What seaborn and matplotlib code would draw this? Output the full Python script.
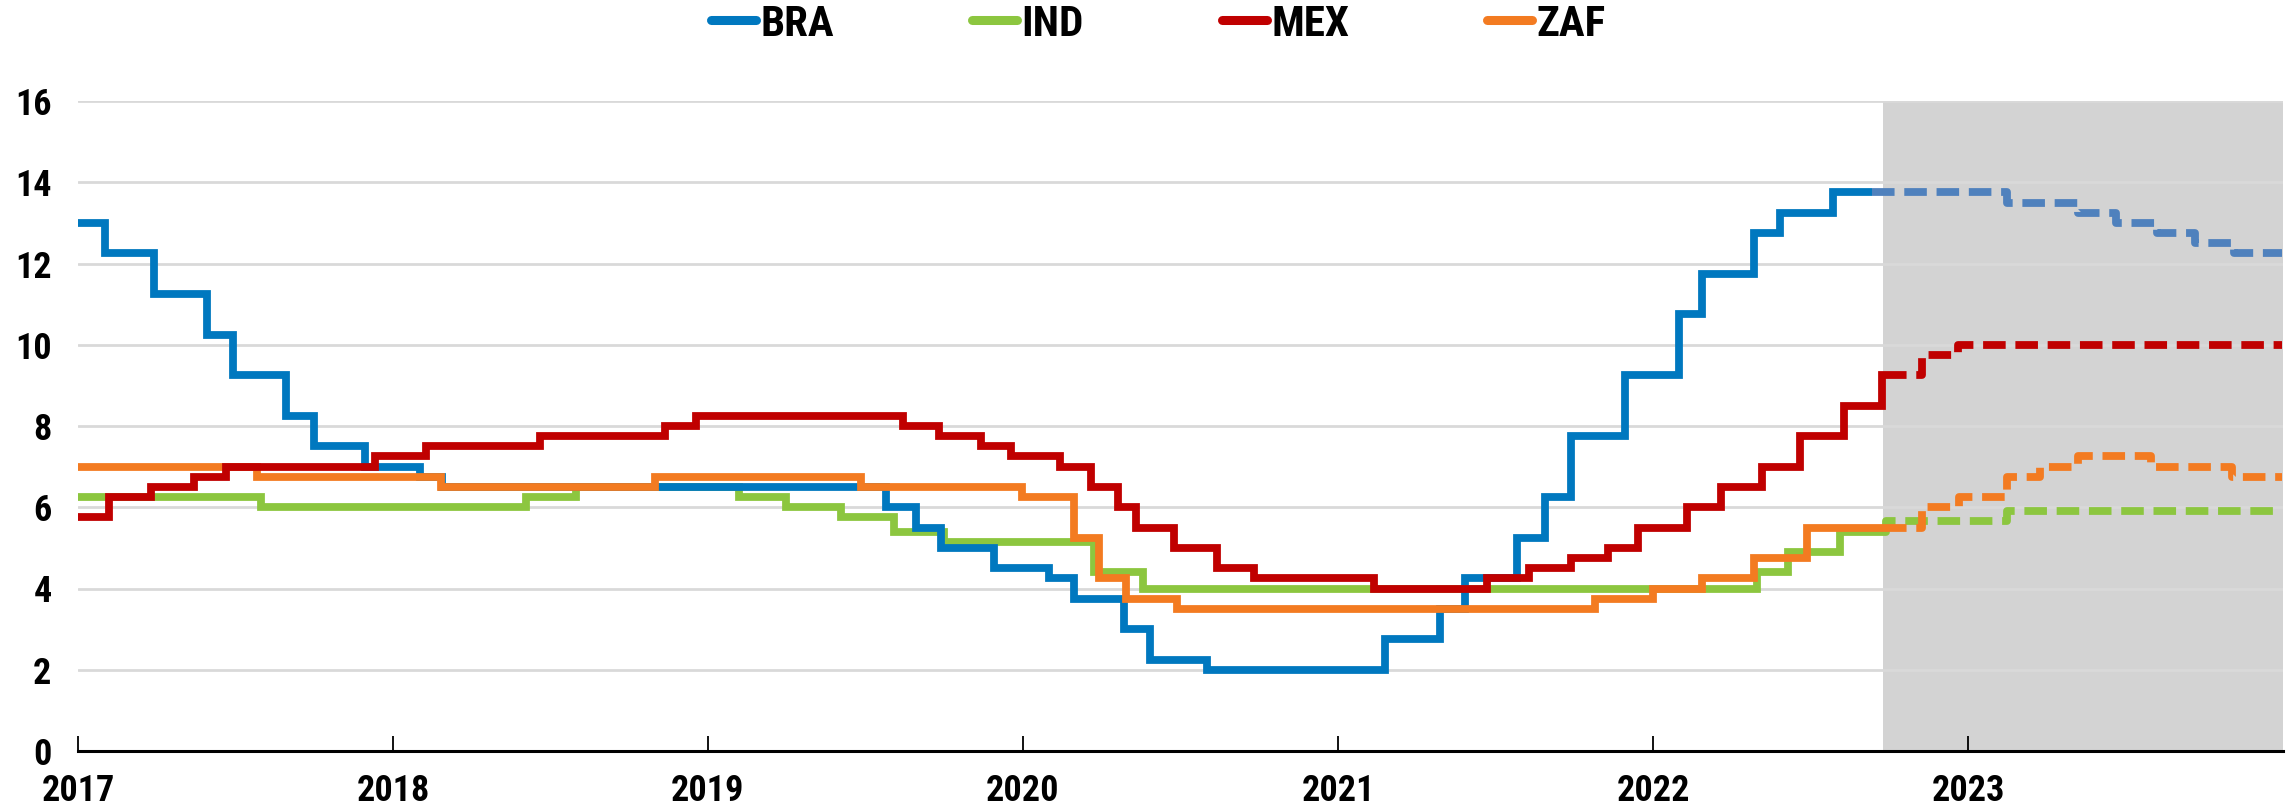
import os
import numpy as np
import pandas as pd
import matplotlib
matplotlib.use("Agg")
import matplotlib.pyplot as plt
from matplotlib.lines import Line2D
from matplotlib import font_manager as fm
import seaborn as sns

# ---------------- data (policy rates, step change points) ----------------
countries = ["BRA", "IND", "MEX", "ZAF"]

bra_dates = ["2017-01-01", "2017-02-01", "2017-03-30", "2017-05-30", "2017-06-30",
             "2017-08-30", "2017-10-01", "2017-11-30", "2018-02-01", "2018-02-27",
             "2019-07-27", "2019-08-30", "2019-09-28", "2019-11-29", "2020-02-01",
             "2020-03-01", "2020-04-28", "2020-05-28", "2020-08-02", "2021-02-24",
             "2021-04-29", "2021-05-28", "2021-07-27", "2021-08-28", "2021-09-28",
             "2021-11-29", "2022-01-31", "2022-02-27", "2022-04-28", "2022-05-28",
             "2022-07-28", "2023-02-15", "2023-05-08", "2023-06-21", "2023-08-08",
             "2023-09-21", "2023-11-05"]
bra_rates = [13.0, 12.25, 11.25, 10.25, 9.25,
             8.25, 7.5, 7.0, 6.75, 6.5,
             6.0, 5.5, 5.0, 4.5, 4.25,
             3.75, 3.0, 2.25, 2.0, 2.75,
             3.5, 4.25, 5.25, 6.25, 7.75,
             9.25, 10.75, 11.75, 12.75, 13.25,
             13.75, 13.5, 13.25, 13.0, 12.75,
             12.5, 12.25]

ind_dates = ["2017-01-01", "2017-08-01", "2018-06-04", "2018-08-01", "2019-02-06",
             "2019-04-02", "2019-06-04", "2019-08-05", "2019-10-02", "2020-03-24",
             "2020-05-20", "2022-05-01", "2022-06-06", "2022-08-05", "2022-09-28",
             "2023-02-15"]
ind_rates = [6.25, 6.0, 6.25, 6.5, 6.25,
             6.0, 5.75, 5.4, 5.15, 4.4,
             4.0, 4.4, 4.9, 5.4, 5.65,
             5.9]

mex_dates = ["2017-01-01", "2017-02-06", "2017-03-27", "2017-05-15", "2017-06-22",
             "2017-12-11", "2018-02-08", "2018-06-20", "2018-11-13", "2018-12-18",
             "2019-08-15", "2019-09-26", "2019-11-14", "2019-12-18", "2020-02-13",
             "2020-03-20", "2020-04-20", "2020-05-11", "2020-06-25", "2020-08-13",
             "2020-09-25", "2021-02-11", "2021-06-22", "2021-08-10", "2021-09-28",
             "2021-11-10", "2021-12-14", "2022-02-09", "2022-03-21", "2022-05-07",
             "2022-06-20", "2022-08-10", "2022-09-23", "2022-11-08", "2022-12-20"]
mex_rates = [5.75, 6.25, 6.5, 6.75, 7.0,
             7.25, 7.5, 7.75, 8.0, 8.25,
             8.0, 7.75, 7.5, 7.25, 7.0,
             6.5, 6.0, 5.5, 5.0, 4.5,
             4.25, 4.0, 4.25, 4.5, 4.75,
             5.0, 5.5, 6.0, 6.5, 7.0,
             7.75, 8.5, 9.25, 9.75, 10.0]

zaf_dates = ["2017-01-01", "2017-07-27", "2018-02-26", "2018-11-01", "2019-06-28",
             "2019-12-31", "2020-03-01", "2020-03-30", "2020-04-30", "2020-06-28",
             "2021-10-26", "2022-01-01", "2022-02-27", "2022-04-28", "2022-06-28",
             "2022-11-08", "2022-12-22", "2023-02-15", "2023-03-25", "2023-05-08",
             "2023-08-01", "2023-11-03"]
zaf_rates = [7.0, 6.75, 6.5, 6.75, 6.5,
             6.25, 5.25, 4.25, 3.75, 3.5,
             3.75, 4.0, 4.25, 4.75, 5.5,
             6.0, 6.25, 6.75, 7.0, 7.25,
             7.0, 6.75]

projection_start = {"BRA": "2022-09-12", "IND": "2022-09-25", "MEX": "2022-09-25", "ZAF": "2022-09-25"}
shade_start = "2022-09-24"
end_date = "2023-12-31"
year_ticks = ["2017", "2018", "2019", "2020", "2021", "2022", "2023"]
y_ticks = [0, 2, 4, 6, 8, 10, 12, 14, 16]

colors = {"BRA": "#0078BF", "IND": "#8CC63F", "MEX": "#C00000", "ZAF": "#F37B21"}
proj_colors = {"BRA": "#4F81BD", "IND": "#8CC63F", "MEX": "#C00000", "ZAF": "#F37B21"}

series = {"BRA": (bra_dates, bra_rates), "IND": (ind_dates, ind_rates),
          "MEX": (mex_dates, mex_rates), "ZAF": (zaf_dates, zaf_rates)}

# ---------------- font: look for a narrow / condensed bold sans ----------------
def find_narrow_bold():
    files = [f.fname for f in fm.fontManager.ttflist]
    prefs = [("liberationsansnarrow-bold", ""), ("liberationsans-narrowbold", ""),
             ("arialnarrow", "bold"), ("robotocondensed-bold", ""),
             ("robotocondensed", "bold"), ("opensanscondensed-bold", ""),
             ("opensans_condensed-bold", ""), ("dejavusanscondensed-bold", "")]
    for key, extra in prefs:
        for p in files:
            b = os.path.basename(p).lower().replace(" ", "")
            if key in b and extra in b and "italic" not in b and "oblique" not in b:
                return p
    return None

narrow = find_narrow_bold()

sns.set_theme(style="white")
plt.rcParams["font.family"] = ["Liberation Sans", "DejaVu Sans"]

def fprop(size):
    if narrow:
        return fm.FontProperties(fname=narrow, size=size)
    return fm.FontProperties(family=["Liberation Sans", "DejaVu Sans"], weight="bold",
                             stretch="condensed", size=size)

W, H, DPI = 2289, 808, 100
fig = plt.figure(figsize=(W / DPI, H / DPI), dpi=DPI)
ax = fig.add_axes([78 / W, 1 - 751 / H, (2283 - 78) / W, (751 - 101) / H])

end = pd.Timestamp(end_date)
frames = []
for c in countries:
    d, r = series[c]
    s = pd.Series(r, index=pd.to_datetime(d), dtype=float)
    sp = pd.Timestamp(projection_start[c])
    v_sp = s[s.index <= sp].iloc[-1]
    act = pd.concat([s[s.index < sp], pd.Series([v_sp], index=[sp])])
    proj = pd.concat([pd.Series([v_sp], index=[sp]), s[s.index > sp],
                      pd.Series([s.iloc[-1]], index=[end])])
    frames.append(pd.DataFrame({"date": act.index, "rate": act.values, "country": c, "part": "actual"}))
    frames.append(pd.DataFrame({"date": proj.index, "rate": proj.values, "country": c, "part": "proj"}))
df = pd.concat(frames, ignore_index=True)

# shaded projection area
ax.axvspan(pd.Timestamp(shade_start), end + pd.Timedelta(days=1), color="#D3D3D3", zorder=0, lw=0)

zorders = {"IND": 3, "ZAF": 4, "BRA": 3.5, "MEX": 5}
LW = 5.6
for c in countries:
    for part in ["actual", "proj"]:
        sub = df[(df.country == c) & (df.part == part)]
        col = colors[c] if part == "actual" else proj_colors[c]
        sns.lineplot(data=sub, x="date", y="rate", ax=ax, color=col,
                     drawstyle="steps-post", estimator=None, sort=True,
                     legend=False, zorder=zorders[c])
        ln = ax.lines[-1]
        ln.set_linewidth(LW)
        ln.set_solid_joinstyle("miter")
        ln.set_solid_capstyle("butt")
        if part == "proj":
            ln.set_dashes((2.9, 1.25))

ax.set_xlim(pd.Timestamp("2017-01-01"), end + pd.Timedelta(days=1))
ax.set_ylim(0, 16)
ax.set_yticks(y_ticks)
ax.set_yticklabels([str(v) for v in y_ticks])
ax.set_xticks(pd.to_datetime([y + "-01-01" for y in year_ticks]))
ax.set_xticklabels(year_ticks)
ax.set_xlabel("")
ax.set_ylabel("")

ax.grid(axis="y", color="#D9D9D9", lw=2.0)
ax.grid(axis="x", visible=False)
for gl in ax.get_ygridlines():
    gl.set_zorder(1)

for sp_name in ["top", "right", "left"]:
    ax.spines[sp_name].set_visible(False)
ax.spines["bottom"].set_color("#000000")
ax.spines["bottom"].set_linewidth(2.2)
ax.spines["bottom"].set_zorder(6)

ax.tick_params(axis="x", direction="in", length=11, width=1.3, color="#000000",
               pad=16, bottom=True)
ax.tick_params(axis="y", length=0, pad=19, left=False)
tick_fp = fprop(26)
for lab in ax.get_xticklabels() + ax.get_yticklabels():
    lab.set_fontproperties(tick_fp)
    lab.set_color("#000000")

handles = [Line2D([0], [0], color=colors[c], lw=6.5, solid_capstyle="round") for c in countries]
leg = fig.legend(handles, countries, loc="center", bbox_to_anchor=(0.506, 1 - 24 / H),
                 ncol=4, frameon=False, handlelength=1.05, borderaxespad=0,
                 handletextpad=0.1, columnspacing=3.2, prop=fprop(31))
for t in leg.get_texts():
    t.set_color("#000000")

fig.savefig("out.png", dpi=DPI)
